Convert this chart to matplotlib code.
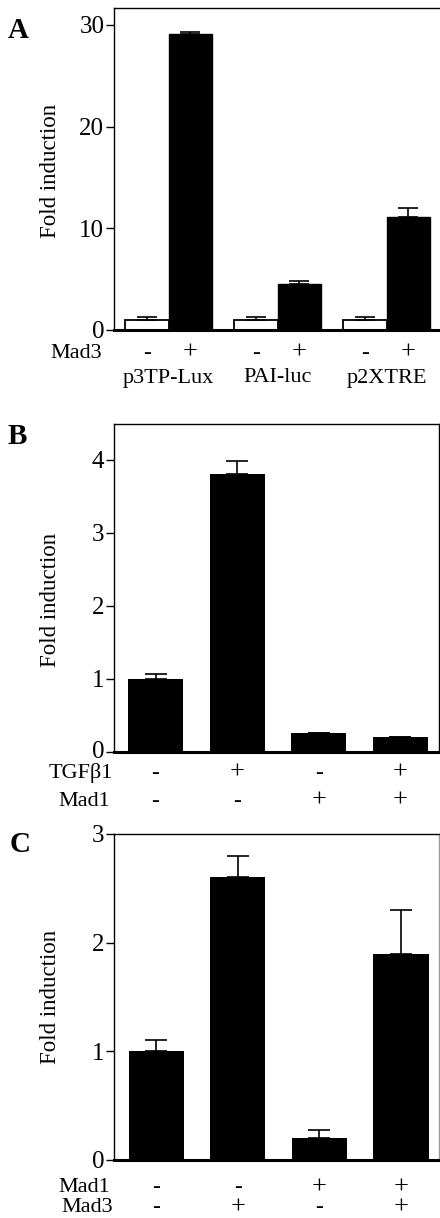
import numpy as np
import matplotlib
matplotlib.use("Agg")
import matplotlib.pyplot as plt
import matplotlib.transforms as mtransforms

plt.rcParams["font.family"] = ["Liberation Serif", "DejaVu Serif"]

# panel A
a_constructs = ["p3TP-Lux", "PAI-luc", "p2XTRE"]
a_minus = [1.0, 1.0, 1.0]
a_minus_err = [0.3, 0.3, 0.3]
a_plus = [29.1, 4.5, 11.1]
a_plus_err = [0.2, 0.3, 0.9]
a_signs = ["-", "+"]

# panel B
b_values = [1.0, 3.8, 0.26, 0.21]
b_err = [0.07, 0.18, 0.0, 0.0]
b_tgf = ["-", "+", "-", "+"]
b_mad1 = ["-", "-", "+", "+"]

# panel C
c_values = [1.0, 2.6, 0.2, 1.9]
c_err = [0.1, 0.2, 0.08, 0.4]
c_mad1 = ["-", "-", "+", "+"]
c_mad3 = ["-", "+", "-", "+"]

W, H = 440, 1218
fig = plt.figure(figsize=(W / 100, H / 100), dpi=100)


def make_axes(left, right, top, bottom):
    return fig.add_axes([left / W, 1 - bottom / H, (right - left) / W, (bottom - top) / H])


def style(ax, y_center, right_spine=True):
    for s in ["top", "left", "right"]:
        ax.spines[s].set_linewidth(1.0)
    ax.spines["right"].set_visible(right_spine)
    ax.spines["bottom"].set_linewidth(2.2)
    ax.set_xticks([])
    ax.tick_params(axis="y", length=6, width=1.0, pad=1, labelsize=18)
    fig.text(50 / W, 1 - y_center / H, "Fold induction", rotation=90,
             fontsize=16.5, ha="center", va="center")


def row_label(ax, y_px, name, signs, xs):
    tr = mtransforms.blended_transform_factory(ax.transData, fig.transFigure)
    yf = 1 - y_px / H
    for x, s in zip(xs, signs):
        ax.text(x, yf, s, transform=tr, ha="center", va="center",
                fontsize=19 if s == "+" else 17, clip_on=False)
    fig.text(name[1] / W, yf, name[0], ha="right", va="center", fontsize=16)


def letter(x_px, y_px, s):
    fig.text(x_px / W, 1 - y_px / H, s, fontsize=21, fontweight="bold",
             ha="left", va="center")


ekw = dict(elinewidth=1.2, capthick=1.2, ecolor="black")

# ---- A ----
ax = make_axes(114, 440, 8, 330)
g = np.arange(len(a_constructs))
w = 0.4
ax.bar(g - w / 2, a_minus, w, color="white", edgecolor="black", linewidth=1.3,
       yerr=[np.zeros(3), a_minus_err], capsize=7, error_kw=ekw)
ax.bar(g + w / 2, a_plus, w, color="black", edgecolor="black",
       yerr=[np.zeros(3), a_plus_err], capsize=7, error_kw=ekw)
ax.set_xlim(-0.5, 2.49)
ax.set_ylim(0, 31.67)
ax.set_yticks([0, 10, 20, 30])
style(ax, 171, right_spine=False)
xs = np.concatenate([[gi - w / 2, gi + w / 2] for gi in g])
row_label(ax, 353, ("Mad3", 102), a_signs * 3, xs)
tr = mtransforms.blended_transform_factory(ax.transData, fig.transFigure)
for gi, name in zip(g, a_constructs):
    ax.text(gi, 1 - 378 / H, name, transform=tr, ha="center", va="center",
            fontsize=16, clip_on=False)
letter(8, 30, "A")

# ---- B ----
ax = make_axes(114, 438.5, 424, 752)
x = np.arange(len(b_values))
bw = 0.675
ax.bar(x, b_values, bw, color="black",
       yerr=[np.zeros(4), b_err], capsize=8, error_kw=ekw)
ax.set_xlim(-0.509, 3.466)
ax.set_ylim(0, 4.49)
ax.set_yticks([0, 1, 2, 3, 4])
style(ax, 600)
# the zero label sits a little high in the original
lift = mtransforms.ScaledTranslation(0, 3 / 100, fig.dpi_scale_trans)
lbl0 = ax.get_yticklabels()[0]
lbl0.set_transform(lbl0.get_transform() + lift)
row_label(ax, 773, ("TGFβ1", 113), b_tgf, x)
row_label(ax, 801, ("Mad1", 110), b_mad1, x)
letter(8, 436, "B")

# ---- C ----
ax = make_axes(114, 439, 834, 1160)
x = np.arange(len(c_values))
ax.bar(x, c_values, bw, color="black",
       yerr=[np.zeros(4), c_err], capsize=8, error_kw=ekw)
ax.set_xlim(-0.52, 3.466)
ax.set_ylim(0, 3)
ax.set_yticks([0, 1, 2, 3])
style(ax, 997)
ax.spines["right"].set_color("#999999")
row_label(ax, 1188, ("Mad1", 110), c_mad1, x)
row_label(ax, 1208, ("Mad3", 113), c_mad3, x)
letter(10, 845, "C")

fig.savefig("out.png", dpi=100)
